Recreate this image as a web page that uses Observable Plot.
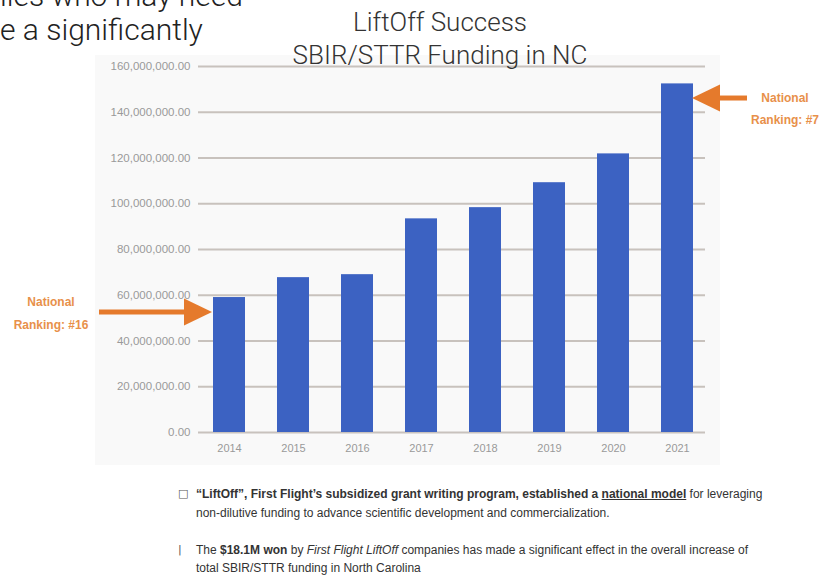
<!DOCTYPE html>
<html><head><meta charset="utf-8">
<script src="https://cdn.jsdelivr.net/npm/d3@7"></script>
<script src="https://cdn.jsdelivr.net/npm/@observablehq/plot@0.6"></script>
<style>
body{margin:0;background:#fff;}
#page{position:relative;width:836px;height:576px;overflow:hidden;font-family:Roboto,"Open Sans",sans-serif;background:#fff;}
.frag{position:absolute;left:0;font-size:30px;font-weight:300;color:#222;white-space:nowrap;line-height:1;}
.title{position:absolute;left:440px;transform:translateX(-50%);font-size:26px;font-weight:300;color:#333;white-space:nowrap;line-height:1;}
#chartbg{position:absolute;left:95px;top:55px;width:625px;height:410px;background:#f9f9f9;}
#chart{position:absolute;left:0;top:0;}
.note{position:absolute;left:196px;font-family:"Liberation Sans Narrow","Arial Narrow","Liberation Sans",sans-serif;font-size:12px;color:#333;white-space:nowrap;line-height:1;}
.bullet{position:absolute;left:178px;font-family:"DejaVu Sans",sans-serif;font-size:11px;color:#555;line-height:1;}
</style></head>
<body>
<div id="page">
  <div id="chartbg"></div>
  <div id="chart"></div>
  <div class="frag" style="top:-19px;">lies who may need</div>
  <div class="frag" style="top:15px;">e a significantly</div>
  <div class="title" style="top:9px;">LiftOff Success</div>
  <div class="title" style="top:42px;">SBIR/STTR Funding in NC</div>
  <div class="bullet" style="top:488px;">□</div>
  <div class="note" style="top:488px;"><b>“LiftOff”, First Flight’s subsidized grant writing program, established a <u>national model</u></b> for leveraging</div>
  <div class="note" style="top:507px;">non-dilutive funding to advance scientific development and commercialization.</div>
  <div class="bullet" style="top:544px;">|</div>
  <div class="note" style="top:544px;">The <b>$18.1M won</b> by <i>First Flight LiftOff</i> companies has made a significant effect in the overall increase of</div>
  <div class="note" style="top:562px;">total SBIR/STTR funding in North Carolina</div>
</div>
<script>
const years = ["2014","2015","2016","2017","2018","2019","2020","2021"];
const funding = [59.0e6, 67.7e6, 69.0e6, 93.4e6, 98.3e6, 109.2e6, 121.8e6, 152.4e6];
const yTicks = [0, 20e6, 40e6, 60e6, 80e6, 100e6, 120e6, 140e6, 160e6];
const annotYears = ["2014", "2021"];
const annotValues = [52.5e6, 146e6];
const annotSides = ["left", "right"];
const annotLines = [["National", "Ranking: #16"], ["National", "Ranking: #7"]];

const data = years.map((year, i) => ({year, value: funding[i]}));

const chart = Plot.plot({
  width: 836, height: 576,
  marginTop: 66, marginBottom: 144, marginLeft: 195, marginRight: 126,
  style: {background: "transparent", overflow: "visible", fontFamily: "Liberation Sans, sans-serif"},
  x: {domain: years, paddingInner: 0.5, paddingOuter: 0.25, label: null},
  y: {domain: [0, 160e6], label: null},
  marks: [
    Plot.ruleY(yTicks, {stroke: "#c8c2bd", strokeWidth: 2, insetLeft: 3, insetRight: 5}),
    Plot.barY(data, {x: "year", y: "value", fill: "#3c62c2"}),
    Plot.axisY(yTicks, {tickFormat: d3.format(",.2f"), tickSize: 0, tickPadding: 5, fontSize: 11.5, fill: "#9a9a9a", label: null}),
    Plot.axisX({tickSize: 0, tickPadding: 12, fontSize: 11, fill: "#9a9a9a", label: null})
  ]
});
document.getElementById("chart").appendChild(chart);

const xs = chart.scale("x"), ys = chart.scale("y");
const svg = d3.select(chart);
const orange = "#e57a2c";
annotYears.forEach((yr, i) => {
  const left = annotSides[i] === "left";
  const bx = xs.apply(yr), bw = xs.bandwidth;
  const tipX = left ? bx - 1 : bx + bw - 1;
  const tipY = ys.apply(annotValues[i]);
  const dir = left ? -1 : 1;
  const headLen = 28, headHalf = 13.5;
  const shaftLen = left ? 113 : 55;
  const g = svg.append("g");
  g.append("line")
    .attr("x1", tipX + dir * (headLen - 3)).attr("x2", tipX + dir * shaftLen)
    .attr("y1", tipY).attr("y2", tipY)
    .attr("stroke", orange).attr("stroke-width", 5);
  g.append("polygon")
    .attr("points", [[tipX, tipY], [tipX + dir * headLen, tipY - headHalf], [tipX + dir * headLen, tipY + headHalf]].map(p => p.join(",")).join(" "))
    .attr("fill", orange);
  const tx = left ? tipX - 161 : tipX + 93;
  const offs = left ? [-10, 13] : [0, 22];
  annotLines[i].forEach((t, j) => {
    g.append("text").attr("x", tx).attr("y", tipY + offs[j]).attr("dy", "0.35em")
      .attr("text-anchor", "middle").attr("fill", "#e8904a")
      .attr("font-size", 12).attr("font-weight", "bold")
      .attr("font-family", "Liberation Sans Narrow, Liberation Sans, sans-serif")
      .text(t);
  });
});
</script>
</body></html>
